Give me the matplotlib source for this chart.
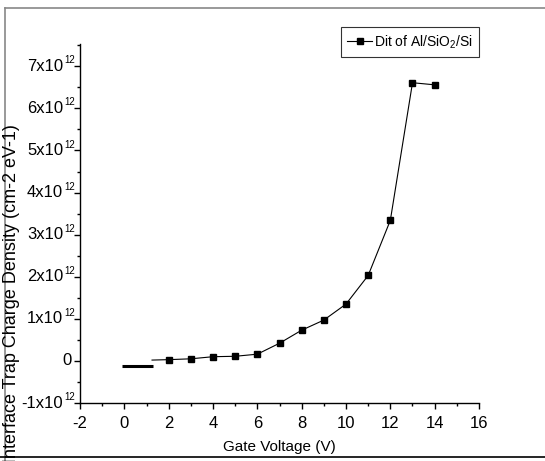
import numpy as np
import matplotlib.pyplot as plt

plt.rcParams['font.family'] = ['Liberation Sans', 'DejaVu Sans']
plt.rcParams['mathtext.fontset'] = 'custom'
plt.rcParams['mathtext.rm'] = 'Liberation Sans'
plt.rcParams['mathtext.it'] = 'Liberation Sans:italic'
plt.rcParams['axes.unicode_minus'] = False

# gate voltage (V) and Dit (x1e12 cm-2 eV-1)
voltage = [1.25, 2, 3, 4, 5, 6, 7, 8, 9, 10, 11, 12, 13, 14]
dit = [0.02, 0.03, 0.05, 0.10, 0.11, 0.16, 0.42, 0.73, 0.97, 1.35, 2.03, 3.34, 6.61, 6.56]
# stray black bar near the origin
bar_x = [-0.12, 1.29]
bar_y = [-0.11, -0.11]

yticks = [-1, 0, 1, 2, 3, 4, 5, 6, 7]
ytick_base = ['-1x10', '0', '1x10', '2x10', '3x10', '4x10', '5x10', '6x10', '7x10']
ytick_exp = ['12', '', '12', '12', '12', '12', '12', '12', '12']
xticks = [-2, 0, 2, 4, 6, 8, 10, 12, 14, 16]

W, H = 545, 461
fig = plt.figure(figsize=(W / 100, H / 100), dpi=100)
ax = fig.add_axes([80 / W, 1 - 403 / H, (479 - 80) / W, (403 - 44) / H])

ax.plot(voltage, dit, color='black', lw=0.8, marker='s', ms=5,
        markevery=list(range(1, len(voltage))), label='Dit of Al/SiO$_2$/Si')
ax.plot(bar_x, bar_y, color='black', lw=2.2, solid_capstyle='butt')

ax.set_xlim(-2, 16)
ax.set_ylim(-1, 7.53)
ax.set_xticks(xticks)
ax.set_xticks(np.arange(-1, 16, 2), minor=True)
ax.set_yticks(yticks)
ax.set_yticklabels([])
ax.set_yticks(np.arange(-0.5, 7.6, 1), minor=True)
ax.tick_params(axis='both', which='major', direction='out', length=4.3, width=1, labelsize=12)
ax.tick_params(axis='x', which='major', pad=5.2)
ax.tick_params(axis='both', which='minor', direction='out', length=2.2, width=1)
ax.spines['top'].set_visible(False)
ax.spines['right'].set_visible(False)
for s in ['left', 'bottom']:
    ax.spines[s].set_linewidth(1)

# y tick labels with small superscripts
for y, b, e in zip(yticks, ytick_base, ytick_exp):
    if e:
        ax.annotate(b, xy=(0, y), xycoords=('axes fraction', 'data'), xytext=(-12.2, 0),
                    textcoords='offset points', ha='right', va='center', fontsize=12)
        ax.annotate(e, xy=(0, y), xycoords=('axes fraction', 'data'), xytext=(-11.6, 4.3),
                    textcoords='offset points', ha='left', va='center', fontsize=7)
    else:
        ax.annotate(b, xy=(0, y), xycoords=('axes fraction', 'data'), xytext=(-5.8, 0),
                    textcoords='offset points', ha='right', va='center', fontsize=12)

ax.set_xlabel('Gate Voltage (V)', fontsize=11, labelpad=6.2)
fig.text(11.5 / W, 1 - 124 / H, 'Interface Trap Charge Density (cm-2 eV-1)',
         rotation=90, ha='center', va='top', fontsize=13)

leg = ax.legend(loc='upper left', bbox_to_anchor=((341 - 80) / 399, (403 - 27) / 359),
                frameon=True, fancybox=False, fontsize=10, handlelength=1.8,
                handletextpad=0.1, borderpad=0.45, borderaxespad=0)
leg.get_frame().set_edgecolor('black')
leg.get_frame().set_linewidth(0.8)

# figure frame
fig.add_artist(plt.Line2D([5 / W, 1], [1 - 8 / H, 1 - 8 / H], color='#888888', lw=1.2, transform=fig.transFigure))
fig.add_artist(plt.Line2D([5 / W, 5 / W], [0, 1 - 8 / H], color='#888888', lw=1.2, transform=fig.transFigure))
fig.add_artist(plt.Line2D([0, 1], [1 - 457 / H, 1 - 457 / H], color='black', lw=1.2, transform=fig.transFigure))

fig.savefig('out.png', dpi=100)
